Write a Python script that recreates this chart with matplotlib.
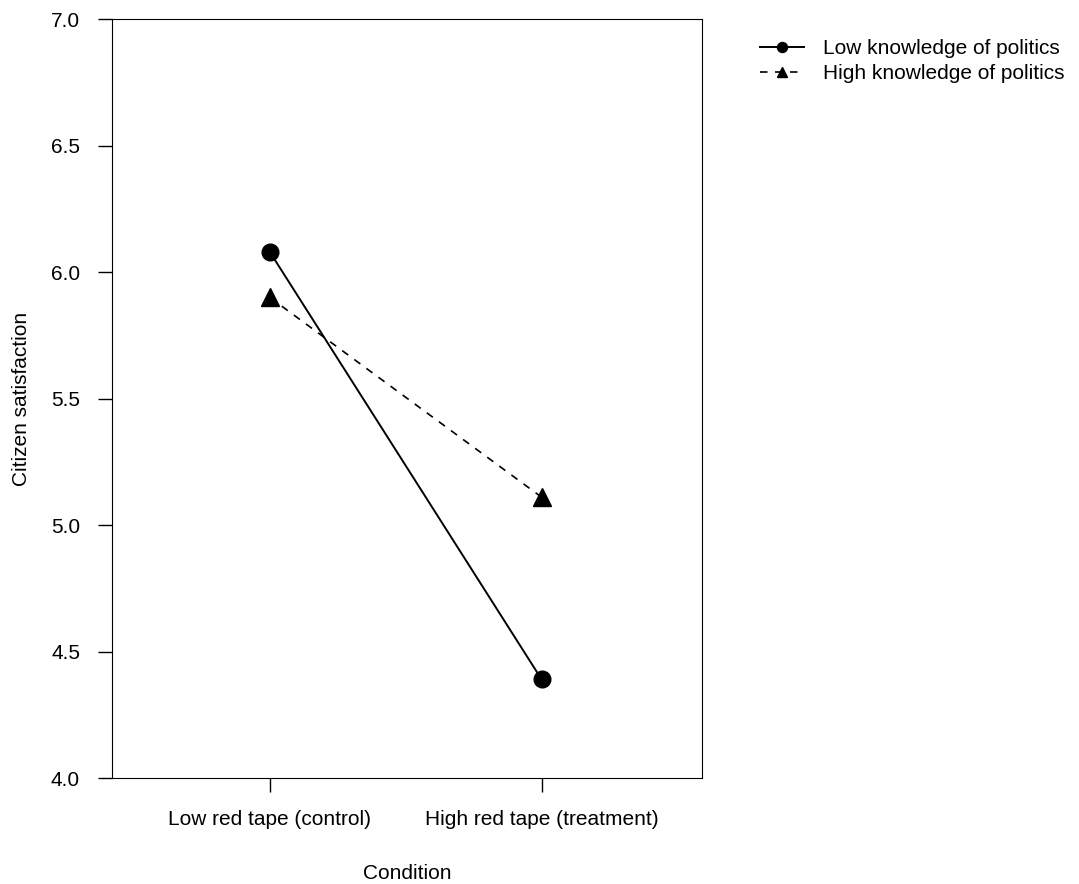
import matplotlib.pyplot as plt
import numpy as np

plt.rcParams['font.family'] = ['Liberation Sans', 'DejaVu Sans']

conditions = ['Low red tape (control)', 'High red tape (treatment)']
low_knowledge = [6.08, 4.39]
high_knowledge = [5.90, 5.11]
y_ticks = [4.0, 4.5, 5.0, 5.5, 6.0, 6.5, 7.0]

fig = plt.figure(figsize=(10.79, 8.84), dpi=100)
ax = fig.add_axes([0.1038, 0.1199, 0.5468, 0.8586])

x = np.arange(len(conditions))
ax.plot(x, low_knowledge, color='black', linestyle='-', linewidth=1.4,
        marker='o', markersize=12, label='Low knowledge of politics')
ax.plot(x, high_knowledge, color='black', linestyle='--', linewidth=1.2,
        dashes=(4.5, 4.5), marker='^', markersize=13, label='High knowledge of politics')

ax.set_xlim(-0.58, 1.59)
ax.set_ylim(4.0, 7.0)
ax.set_xticks(x)
ax.set_xticklabels(conditions, fontsize=15)
ax.set_yticks(y_ticks)
ax.set_yticklabels(['%.1f' % t for t in y_ticks], fontsize=15)
ax.tick_params(direction='out', length=10, width=1, pad=13)
ax.set_xlabel('Condition', fontsize=15, labelpad=25)
ax.set_ylabel('Citizen satisfaction', fontsize=15, labelpad=14)

fig.legend(loc='upper left', bbox_to_anchor=(0.687, 0.977), frameon=False,
           fontsize=15, handlelength=2.1, handletextpad=0.9, labelspacing=0.3,
           markerscale=0.6)

fig.savefig('out.png', dpi=100)
